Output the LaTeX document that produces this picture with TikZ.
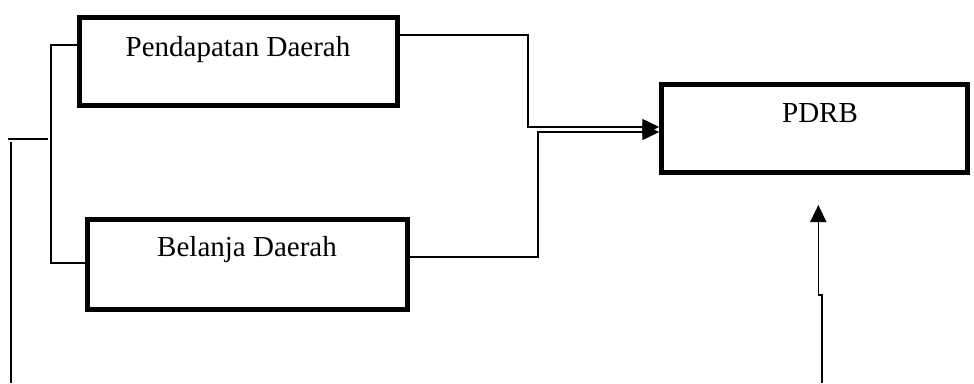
\documentclass[tikz,border=0pt]{standalone}
\usepackage{fontspec}
\setmainfont{Liberation Serif}
\usetikzlibrary{arrows.meta,calc}
\begin{document}
\begin{tikzpicture}[x=1pt,y=-1pt,
  box/.style={draw,line width=4.5pt,inner sep=0pt},
  lbl/.style={font=\fontsize{29}{34}\selectfont,inner sep=0pt},
  conn/.style={line width=1.6pt},
  arr/.style={conn,-{Triangle[length=17pt,width=16pt]}}]
\useasboundingbox (0,0) rectangle (974,383);
\node[box,minimum width=318pt,minimum height=88pt] (b1) at (238.5,61.5) {};
\node[box,minimum width=320pt,minimum height=90pt] (b2) at (247.5,264.5) {};
\node[box,minimum width=306pt,minimum height=88pt] (b3) at (814.5,128.5) {};
\node[lbl] (t1) at (238,50) {Pendapatan Daerah};
\node[lbl] (t2) at (247,250) {Belanja Daerah};
\node[lbl] (t3) at (820,113) {PDRB};
% connectors to PDRB
\draw[arr] ([yshift=26.5pt]b1.east) -| (528,127) -- ([yshift=1.5pt]b3.west);
\draw[arr] ([yshift=7.5pt]b2.east) -| (538,132) -- ([yshift=-3.5pt]b3.west);
% left bracket
\coordinate (k1) at (51,45);
\coordinate (k2) at (51,263);
\draw[conn] ([yshift=16.5pt]b1.west) -- (k1) -- (k2) -- ([yshift=1.5pt]b2.west);
\coordinate (h1) at (8,139);
\coordinate (h2) at (48,139);
\draw[conn] (h1) -- (h2);
\coordinate (v1) at (11,142);
\coordinate (v2) at (11,383);
\draw[conn] (v1) -- (v2);
% bottom arrow
\coordinate (u0) at (821.7,383);
\coordinate (u1) at (821.7,295);
\coordinate (u2) at (818.3,295);
\coordinate (u3) at (818.3,205);
\draw[arr] (u0) -- (u1) -- (u2) -- (u3);
\end{tikzpicture}
\end{document}
